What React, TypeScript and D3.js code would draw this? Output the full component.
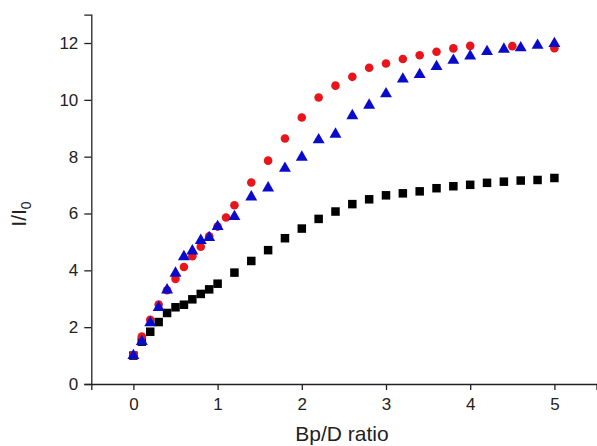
import React, { useRef, useEffect } from 'react';
import * as d3 from 'd3';

// Bp/D ratio values for each series
const xBlack = [0, 0.1, 0.2, 0.3, 0.4, 0.5, 0.6, 0.7, 0.8, 0.9, 1.0, 1.2, 1.4, 1.6, 1.8, 2.0, 2.2, 2.4, 2.6, 2.8, 3.0, 3.2, 3.4, 3.6, 3.8, 4.0, 4.2, 4.4, 4.6, 4.8, 5.0];
const yBlack = [1.0, 1.49, 1.84, 2.18, 2.5, 2.7, 2.79, 2.98, 3.17, 3.33, 3.53, 3.92, 4.33, 4.71, 5.13, 5.47, 5.81, 6.07, 6.33, 6.5, 6.64, 6.71, 6.78, 6.89, 6.96, 7.01, 7.08, 7.12, 7.16, 7.18, 7.25];

const xRed = [0, 0.1, 0.2, 0.3, 0.4, 0.5, 0.6, 0.7, 0.8, 0.9, 1.0, 1.1, 1.2, 1.4, 1.6, 1.8, 2.0, 2.2, 2.4, 2.6, 2.8, 3.0, 3.2, 3.4, 3.6, 3.8, 4.0, 4.5, 5.0];
const yRed = [1.02, 1.67, 2.26, 2.8, 3.3, 3.7, 4.12, 4.5, 4.83, 5.2, 5.54, 5.86, 6.29, 7.09, 7.86, 8.64, 9.38, 10.08, 10.5, 10.81, 11.13, 11.28, 11.44, 11.57, 11.69, 11.81, 11.9, 11.89, 11.82];

const xBlue = [0, 0.1, 0.2, 0.3, 0.4, 0.5, 0.6, 0.7, 0.8, 0.9, 1.0, 1.2, 1.4, 1.6, 1.8, 2.0, 2.2, 2.4, 2.6, 2.8, 3.0, 3.2, 3.4, 3.6, 3.8, 4.0, 4.2, 4.4, 4.6, 4.8, 5.0];
const yBlue = [1.0, 1.49, 2.15, 2.69, 3.31, 3.9, 4.48, 4.68, 5.05, 5.15, 5.54, 5.89, 6.58, 6.9, 7.59, 7.98, 8.59, 8.79, 9.44, 9.81, 10.21, 10.73, 10.89, 11.17, 11.39, 11.54, 11.7, 11.78, 11.83, 11.92, 11.98];

const xMajor = [0, 1, 2, 3, 4, 5];
const xMinor = [-0.5, 0.5, 1.5, 2.5, 3.5, 4.5, 5.5];
const yMajor = [0, 2, 4, 6, 8, 10, 12];
const yMinor = [1, 3, 5, 7, 9, 11];

const App = () => {
  const ref = useRef(null);

  useEffect(() => {
    if (!ref.current) return;
    d3.select(ref.current).selectAll('*').remove();

    const width = 597;
    const height = 446;
    const font = 'Liberation Sans, Arial, sans-serif';

    const x = d3.scaleLinear().domain([-0.5, 5.5]).range([91.3, 596.5]);
    const y = d3.scaleLinear().domain([0, 13]).range([384, 14.6]);

    const svg = d3.select(ref.current)
      .append('svg')
        .attr('width', width)
        .attr('height', height)
        .style('position', 'absolute')
        .style('left', 0)
        .style('top', 0)
        .style('background', '#fff');

    // x axis
    const gx = svg.append('g').attr('transform', `translate(0,${y(0)})`);
    gx.call(d3.axisBottom(x).tickValues(xMinor).tickSize(3.5).tickFormat(() => ''));
    gx.call(d3.axisBottom(x).tickValues(xMajor).tickSize(6).tickPadding(8).tickFormat(d3.format('d')));
    gx.selectAll('.domain').attr('stroke', '#222').attr('stroke-width', 1.3);
    gx.selectAll('line').attr('stroke', '#222').attr('stroke-width', 1.3);
    gx.selectAll('text').style('font-family', font).style('font-size', '17px').attr('fill', '#222');

    // y axis
    const gy = svg.append('g').attr('transform', `translate(${x(-0.5)},0)`);
    gy.call(d3.axisLeft(y).tickValues(yMinor).tickSize(3.5).tickFormat(() => ''));
    gy.call(d3.axisLeft(y).tickValues(yMajor).tickSize(7).tickPadding(6).tickFormat(d3.format('d')));
    gy.selectAll('.domain').attr('stroke', '#222').attr('stroke-width', 1.3);
    gy.selectAll('line').attr('stroke', '#222').attr('stroke-width', 1.3);
    gy.selectAll('text').style('font-family', font).style('font-size', '17px').attr('fill', '#222');

    // axis titles
    svg.append('text')
      .attr('x', 342)
      .attr('y', 440.5)
      .attr('text-anchor', 'middle')
      .style('font-family', font)
      .style('font-size', '21px')
      .attr('fill', '#222')
      .text('Bp/D ratio');

    const yt = svg.append('text')
      .attr('transform', 'translate(26,214) rotate(-90)')
      .attr('text-anchor', 'middle')
      .style('font-family', font)
      .style('font-size', '21px')
      .attr('fill', '#222');
    yt.append('tspan').text('I/I');
    yt.append('tspan').attr('dy', 5).style('font-size', '14px').text('0');

    // black squares
    const s = 8.5;
    svg.append('g').selectAll('rect')
      .data(d3.zip(xBlack, yBlack))
      .join('rect')
        .attr('x', d => x(d[0]) - s / 2)
        .attr('y', d => y(d[1]) - s / 2)
        .attr('width', s)
        .attr('height', s)
        .attr('fill', '#000');

    // red circles
    svg.append('g').selectAll('circle')
      .data(d3.zip(xRed, yRed))
      .join('circle')
        .attr('cx', d => x(d[0]))
        .attr('cy', d => y(d[1]))
        .attr('r', 4.3)
        .attr('fill', '#e8161b');

    // blue triangles
    const tri = d3.symbol().type(d3.symbolTriangle).size(62);
    svg.append('g').selectAll('path')
      .data(d3.zip(xBlue, yBlue))
      .join('path')
        .attr('d', tri)
        .attr('transform', d => `translate(${x(d[0])},${y(d[1])})`)
        .attr('fill', '#0a0acc');
  }, []);

  return <div ref={ref} />;
};

export default App;
